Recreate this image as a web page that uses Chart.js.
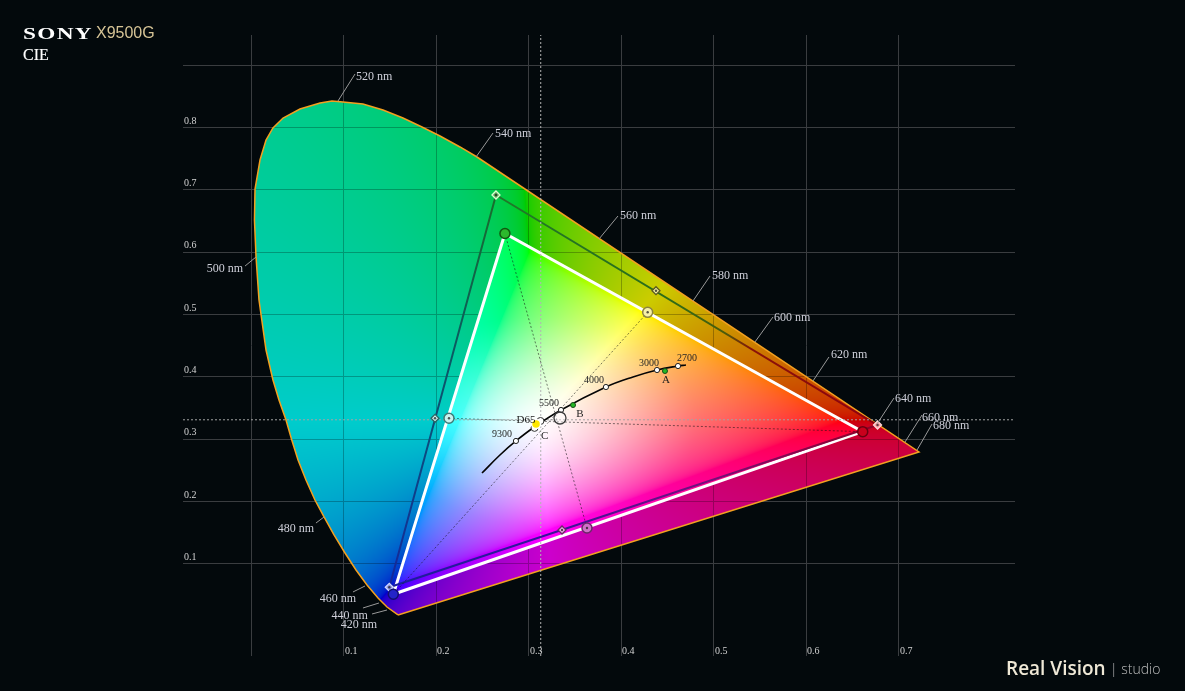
<!DOCTYPE html>
<html><head><meta charset="utf-8">
<script src="https://cdn.jsdelivr.net/npm/chart.js@4.4.1/dist/chart.umd.min.js"></script>
<style>
html,body{margin:0;padding:0;background:#03090c;width:1185px;height:691px;overflow:hidden;}
#wrap{position:relative;width:1185px;height:691px;}
canvas{position:absolute;left:0;top:0;}
.t{position:absolute;line-height:1;white-space:nowrap;}
#sony{left:23px;top:22.5px;font:bold 17.5px 'Liberation Serif',serif;color:#fff;letter-spacing:1px;transform:scaleX(1.33);transform-origin:0 0;}
#model{left:96px;top:23.5px;font:16px 'Liberation Sans',Arial,sans-serif;color:#d6c496;}
#cie{left:23px;top:46px;font:16px 'Liberation Serif',serif;color:#fff;-webkit-text-stroke:0.15px #fff;}
#rv{left:1006px;top:655px;font:600 19px 'Open Sans',sans-serif;color:#efe8d6;}
#st{left:1110px;top:659px;font:300 14px 'Open Sans',sans-serif;color:#bdbdbd;}
</style></head><body>
<div id="wrap">
<canvas id="c" width="1185" height="691"></canvas>
<div class="t" id="sony">SONY</div>
<div class="t" id="model">X9500G</div>
<div class="t" id="cie">CIE</div>
<div class="t" id="rv">Real Vision</div>
<div class="t" id="st">| studio</div>
</div>
<script>
// ---------- axes ----------
const xAxisRange = [-0.07405, 0.82541];
const yAxisRange = [-0.04815, 0.94864];
const xGridValues = [0, 0.1, 0.2, 0.3, 0.4, 0.5, 0.6, 0.7];
const yGridValues = [0.1, 0.2, 0.3, 0.4, 0.5, 0.6, 0.7, 0.8, 0.9];
const xTickValues = [0.1, 0.2, 0.3, 0.4, 0.5, 0.6, 0.7];
const xTickLabels = ['0.1', '0.2', '0.3', '0.4', '0.5', '0.6', '0.7'];
const yTickValues = [0.1, 0.2, 0.3, 0.4, 0.5, 0.6, 0.7, 0.8];
const yTickLabels = ['0.1', '0.2', '0.3', '0.4', '0.5', '0.6', '0.7', '0.8'];

// ---------- spectral locus outline ----------
const locusX = [0.1584,0.1465,0.1368,0.1249,0.1130,0.1011,0.0892,0.0784,0.0686,0.0589,0.0503,0.0432,0.0373,0.0297,0.0232,0.0157,0.0081,0.0049,0.0032,0.0038,0.0092,0.0157,0.0232,0.0341,0.0524,0.0741,0.0870,0.0989,0.1205,0.1422,0.1638,0.1843,0.2038,0.2254,0.2438,0.7216,0.1584];
const locusY = [0.0177,0.0305,0.0449,0.0658,0.0899,0.1172,0.1461,0.1750,0.2022,0.2343,0.2665,0.3002,0.3307,0.3628,0.3949,0.4430,0.5233,0.5923,0.6517,0.7014,0.7480,0.7801,0.7994,0.8154,0.8299,0.8395,0.8427,0.8411,0.8379,0.8283,0.8154,0.8010,0.7865,0.7689,0.7528,0.2793,0.0177];

// wavelength labels
const wlLabels = ['520 nm','540 nm','560 nm','580 nm','600 nm','620 nm','640 nm','660 nm','680 nm','500 nm','480 nm','460 nm','440 nm','420 nm'];
const wlX     = [0.0935,0.2427,0.3757,0.4773,0.5443,0.6070,0.6762,0.7065,0.7195,0.0049,0.0784,0.1227,0.1378,0.1465];
const wlY     = [0.8427,0.7528,0.6212,0.5217,0.4559,0.3933,0.3242,0.2953,0.2825,0.5923,0.1750,0.0642,0.0369,0.0257];
const wlLeadX = [0.1119,0.2611,0.3962,0.4957,0.5638,0.6243,0.6946,0.7249,0.7357,-0.0070,0.0697,0.1097,0.1205,0.1303];
const wlLeadY = [0.8860,0.7913,0.6581,0.5618,0.4960,0.4318,0.3660,0.3387,0.3242,0.5778,0.1653,0.0546,0.0289,0.0193];
const wlTextX = [0.1130,0.2632,0.3984,0.4978,0.5649,0.6265,0.6957,0.7249,0.7368,-0.0092,0.0676,0.1130,0.1259,0.1357];
const wlTextY = [0.8812,0.7897,0.6581,0.5618,0.4944,0.4350,0.3644,0.3339,0.3210,0.5730,0.1557,0.0433,0.0161,0.0016];

// ---------- gamut points (R, G, B) and secondaries (Y, C, M) ----------
const measuredPrimX = [0.6608, 0.2740, 0.1533];
const measuredPrimY = [0.3119, 0.6300, 0.0509];
const targetPrimX   = [0.6768, 0.2643, 0.1490];
const targetPrimY   = [0.3226, 0.6918, 0.0621];
const measuredSecX  = [0.4283, 0.2135, 0.3627];
const measuredSecY  = [0.5035, 0.3334, 0.1573];
const targetSecX    = [0.4373, 0.1984, 0.3357];
const targetSecY    = [0.5382, 0.3334, 0.1541];
const whitePointX = [0.3076];
const whitePointY = [0.3242];
const crossX = 0.3127;
const crossY = 0.3310;

// ---------- illuminants ----------
const illumNames = ['A', 'B', 'C', 'D65', 'E'];
const illumX = [0.4470, 0.3476, 0.3060, 0.3124, 0.3335];
const illumY = [0.4093, 0.3547, 0.3180, 0.3291, 0.3339];

// ---------- Planckian locus ----------
const planckX = [0.2492, 0.2686, 0.2859, 0.3043, 0.3346, 0.3832, 0.4124, 0.4384, 0.4611, 0.4697];
const planckY = [0.2456, 0.2745, 0.2970, 0.3178, 0.3467, 0.3836, 0.3997, 0.4109, 0.4173, 0.4189];
const cctLabels = ['9300', '5500', '4000', '3000', '2700'];
const cctX = [0.2859, 0.3346, 0.3832, 0.4384, 0.4611];
const cctY = [0.2970, 0.3467, 0.3836, 0.4109, 0.4173];

// ---------- helpers ----------
const pts = (xs, ys) => xs.map((x, i) => ({x, y: ys[i]}));
const closed = (xs, ys) => { const p = pts(xs, ys); p.push({...p[0]}); return p; };

function gam(c){ return c <= 0.0031308 ? 12.92*c : 1.055*Math.pow(c, 1/2.4) - 0.055; }

let patterns = null;
function getPatterns(chart){
  const area = chart.chartArea;
  if (!area || !chart.scales.x) return null;
  const W = chart.width, H = chart.height;
  const key = [area.left, area.top, area.right, area.bottom, W, H].join(',');
  if (patterns && patterns.key === key) return patterns;
  const sx = chart.scales.x, sy = chart.scales.y;
  const c1 = document.createElement('canvas'); c1.width = W; c1.height = H;
  const c2 = document.createElement('canvas'); c2.width = W; c2.height = H;
  const g1 = c1.getContext('2d'), g2 = c2.getContext('2d');
  const d1 = g1.createImageData(W, H), d2 = g2.createImageData(W, H);
  const vLines = new Set(xGridValues.map(v => Math.round(sx.getPixelForValue(v) - 0.5)));
  const hLines = new Set(yGridValues.map(v => Math.round(sy.getPixelForValue(v) - 0.5)));
  const x0 = Math.max(0, Math.floor(area.left)), x1 = Math.min(W, Math.ceil(area.right));
  const y0 = Math.max(0, Math.floor(area.top)), y1 = Math.min(H, Math.ceil(area.bottom));
  const xs = new Float64Array(W);
  for (let px = x0; px < x1; px++) xs[px] = sx.getValueForPixel(px + 0.5);
  for (let py = y0; py < y1; py++){
    const y = sy.getValueForPixel(py + 0.5);
    if (y <= 0.002) continue;
    const onH = hLines.has(py);
    for (let px = x0; px < x1; px++){
      const x = xs[px];
      if (x < -0.02 || x + y > 1.05) continue;
      const X = x / y, Z = (1 - x - y) / y;
      let r = 3.2406*X - 1.5372 - 0.4986*Z;
      let g = -0.9689*X + 1.8758 + 0.0415*Z;
      let b = 0.0557*X - 0.2040 + 1.0570*Z;
      const m = Math.min(r, g, b);
      if (m < 0){ r -= m; g -= m; b -= m; }
      const M = Math.max(r, g, b) || 1;
      r = gam(r / M); g = gam(g / M); b = gam(b / M);
      const dx = x - 0.3127, dy = y - 0.329;
      const d = Math.sqrt(dx*dx + dy*dy);
      let w = 1 - d / 0.17; w = w > 0 ? 0.75 * Math.pow(w, 1.4) : 0;
      const i = (py * W + px) * 4;
      d2.data[i]   = (r + (1 - r) * w) * 255;
      d2.data[i+1] = (g + (1 - g) * w) * 255;
      d2.data[i+2] = (b + (1 - b) * w) * 255;
      d2.data[i+3] = 255;
      let f = 0.8;
      if (onH || vLines.has(px)) f *= 0.74;
      d1.data[i]   = r * 255 * f;
      d1.data[i+1] = g * 255 * f;
      d1.data[i+2] = b * 255 * f;
      d1.data[i+3] = 255;
    }
  }
  g1.putImageData(d1, 0, 0); g2.putImageData(d2, 0, 0);
  patterns = {key, dim: chart.ctx.createPattern(c1, 'no-repeat'), bright: chart.ctx.createPattern(c2, 'no-repeat')};
  return patterns;
}

// target (P3) edge gradients: G->R, R->B, B->G
const edgeStops = [
  [[0,'#1e7a2a'],[0.45,'#2d6c18'],[0.6,'#4a5c0a'],[0.67,'#8a1208'],[1,'#8e0010']],
  [[0,'#900024'],[0.35,'#74107c'],[0.7,'#34149c'],[1,'#16209c']],
  [[0,'#16249c'],[0.35,'#0c4a80'],[0.65,'#0c5c5c'],[1,'#1a6e2a']]
];
const edgeIdx = [[1,0],[0,2],[2,1]];
function edgeDataset(k){
  const [a, b] = edgeIdx[k];
  return {
    data: [{x: targetPrimX[a], y: targetPrimY[a]}, {x: targetPrimX[b], y: targetPrimY[b]}],
    showLine: true, pointRadius: 0, borderWidth: 2, order: 40,
    borderColor: (c) => {
      const ch = c.chart; if (!ch.chartArea) return '#333';
      const sx = ch.scales.x, sy = ch.scales.y;
      const gr = ch.ctx.createLinearGradient(sx.getPixelForValue(targetPrimX[a]), sy.getPixelForValue(targetPrimY[a]), sx.getPixelForValue(targetPrimX[b]), sy.getPixelForValue(targetPrimY[b]));
      edgeStops[k].forEach(([o, col]) => gr.addColorStop(o, col));
      return gr;
    }
  };
}

const labelPlugin = {
  id: 'labels',
  afterDatasetsDraw(chart){
    const {ctx, chartArea} = chart;
    const sx = chart.scales.x, sy = chart.scales.y;
    const X = v => sx.getPixelForValue(v), Y = v => sy.getPixelForValue(v);
    ctx.save();
    // tick labels
    ctx.font = '10px "Liberation Serif", serif';
    ctx.fillStyle = '#d2d2d2';
    ctx.textBaseline = 'middle';
    ctx.textAlign = 'left';
    xTickValues.forEach((v, i) => ctx.fillText(xTickLabels[i], Math.round(X(v)) + 1, chartArea.bottom - 4.5));
    yTickValues.forEach((v, i) => ctx.fillText(yTickLabels[i], chartArea.left + 1, Y(v) - 6.5));
    // wavelength leaders + labels
    ctx.strokeStyle = '#9a9a9a'; ctx.lineWidth = 1;
    ctx.font = '12px "Liberation Serif", serif';
    ctx.fillStyle = '#cfd0da';
    wlLabels.forEach((t, i) => {
      ctx.beginPath();
      ctx.moveTo(X(wlX[i]), Y(wlY[i]));
      ctx.lineTo(X(wlLeadX[i]), Y(wlLeadY[i]));
      ctx.stroke();
      ctx.textAlign = parseInt(t) < 510 ? 'right' : 'left';
      ctx.fillText(t, X(wlTextX[i]), Y(wlTextY[i]));
    });
    // CCT labels
    ctx.font = '10px "Liberation Serif", serif';
    ctx.fillStyle = '#262626';
    const cctOff = [[-4,-7,'right'],[-2,-7,'right'],[-2,-7,'right'],[-8,-7,'center'],[-1,-8,'left']];
    cctLabels.forEach((t, i) => {
      ctx.textAlign = cctOff[i][2];
      ctx.fillText(t, X(cctX[i]) + cctOff[i][0], Y(cctY[i]) + cctOff[i][1]);
    });
    // illuminant labels
    ctx.font = '11px "Liberation Serif", serif';
    ctx.fillStyle = '#1e1e1e';
    const ilOff = [[1,9,'center'],[7,9,'center'],[10,8,'center'],[-5,-1,'right'],null];
    illumNames.forEach((t, i) => {
      if (!ilOff[i]) return;
      ctx.textAlign = ilOff[i][2];
      ctx.fillText(t, X(illumX[i]) + ilOff[i][0], Y(illumY[i]) + ilOff[i][1]);
    });
    ctx.restore();
  }
};

const ctx = document.getElementById('c').getContext('2d');
new Chart(ctx, {
  type: 'scatter',
  data: {
    datasets: [
      // measured white point
      {data: pts(whitePointX, whitePointY), pointRadius: 4.5, pointBackgroundColor: '#ffe800', pointBorderColor: '#ffffff', pointBorderWidth: 1.5, order: 1},
      // illuminants
      {data: pts(illumX, illumY),
       pointRadius: [2.5, 2.5, 3.5, 3.5, 6],
       pointBackgroundColor: ['#25b825', '#25b825', '#ffffff', '#ffffff', 'rgba(255,255,255,0.35)'],
       pointBorderColor: ['#1a4a1a', '#1a4a1a', '#333333', '#333333', '#3a3a3a'],
       pointBorderWidth: [1, 1, 1, 1, 1.3], order: 3},
      // CCT markers
      {data: pts(cctX, cctY), pointRadius: 2.6, pointBackgroundColor: '#ffffff', pointBorderColor: '#222222', pointBorderWidth: 1, order: 5},
      // Planckian locus
      {data: pts(planckX, planckY), showLine: true, tension: 0.4, borderColor: '#050505', borderWidth: 1.6, pointRadius: 0, order: 7},
      // marker centre dots
      {data: pts(targetPrimX.concat(targetSecX, measuredSecX), targetPrimY.concat(targetSecY, measuredSecY)),
       pointRadius: 1.2, pointBackgroundColor: 'rgba(30,30,30,0.75)', pointBorderWidth: 0, order: 8},
      // measured secondaries
      {data: pts(measuredSecX, measuredSecY), pointRadius: 5,
       pointBackgroundColor: ['#f6f0a8', '#c8f2ee', '#d070c8'],
       pointBorderColor: ['#8c8440', '#3e7a76', '#6a2a68'], pointBorderWidth: 1.5, order: 9},
      // measured primaries
      {data: pts(measuredPrimX, measuredPrimY), pointRadius: 5,
       pointBackgroundColor: ['#c8001c', '#2cb82c', '#2424c8'],
       pointBorderColor: ['#6a0010', '#0f5a0f', '#101070'], pointBorderWidth: 1.5, order: 10},
      // target secondaries
      {data: pts(targetSecX, targetSecY), pointStyle: 'rectRot', pointRadius: 4,
       pointBackgroundColor: ['#f2eea0', '#d0f2f0', '#f0b0e8'],
       pointBorderColor: ['#5a5820', '#2a6464', '#6a2a64'], pointBorderWidth: 1.3, order: 11},
      // target primaries
      {data: pts(targetPrimX, targetPrimY), pointStyle: 'rectRot', pointRadius: 4,
       pointBackgroundColor: ['#ff9aa0', '#5aa85a', '#8a90e0'],
       pointBorderColor: ['#ffd8d8', '#d8ffd0', '#d0d8ff'], pointBorderWidth: 1.3, order: 12},
      // dotted lines primary -> opposite secondary
      {data: [{x: measuredPrimX[1], y: measuredPrimY[1]}, {x: measuredSecX[2], y: measuredSecY[2]}], showLine: true, pointRadius: 0, borderColor: 'rgba(20,20,20,0.55)', borderWidth: 1, borderDash: [2, 2], order: 30},
      {data: [{x: measuredSecX[0], y: measuredSecY[0]}, {x: measuredPrimX[2], y: measuredPrimY[2]}], showLine: true, pointRadius: 0, borderColor: 'rgba(20,20,20,0.55)', borderWidth: 1, borderDash: [2, 2], order: 30},
      {data: [{x: measuredSecX[1], y: measuredSecY[1]}, {x: measuredPrimX[0], y: measuredPrimY[0]}], showLine: true, pointRadius: 0, borderColor: 'rgba(20,20,20,0.55)', borderWidth: 1, borderDash: [2, 2], order: 30},
      // crosshair
      {data: [{x: xAxisRange[0], y: crossY}, {x: xAxisRange[1], y: crossY}], showLine: true, pointRadius: 0, borderColor: '#a4a4a4', borderWidth: 1, borderDash: [2, 2], order: 35},
      {data: [{x: crossX, y: yAxisRange[0]}, {x: crossX, y: yAxisRange[1]}], showLine: true, pointRadius: 0, borderColor: '#b4b4b4', borderWidth: 1, borderDash: [2, 2], order: 35},
      // target gamut edges
      edgeDataset(0), edgeDataset(1), edgeDataset(2),
      // measured gamut triangle
      {data: closed(measuredPrimX, measuredPrimY), showLine: true, fill: 'shape', pointRadius: 0,
       borderColor: '#ffffff', borderWidth: 3, borderJoinStyle: 'miter', order: 45,
       backgroundColor: (c) => { const p = getPatterns(c.chart); return p ? p.bright : 'rgba(0,0,0,0)'; }},
      // spectral locus
      {data: pts(locusX, locusY), showLine: true, fill: 'shape', pointRadius: 0,
       borderColor: '#f3a020', borderWidth: 1.5, order: 50,
       backgroundColor: (c) => { const p = getPatterns(c.chart); return p ? p.dim : 'rgba(0,0,0,0)'; }}
    ]
  },
  options: {
    responsive: false,
    maintainAspectRatio: false,
    devicePixelRatio: 1,
    animation: false,
    events: [],
    layout: {padding: {left: 183, right: 170, top: 35, bottom: 35}},
    plugins: {legend: {display: false}, tooltip: {enabled: false}, title: {display: false}},
    scales: {
      x: {
        type: 'linear', min: xAxisRange[0], max: xAxisRange[1],
        afterBuildTicks: s => { s.ticks = xGridValues.map(v => ({value: v})); },
        afterFit: s => { s.height = 0; },
        ticks: {display: false},
        grid: {color: '#3a3d40', lineWidth: 1, drawTicks: false},
        border: {display: false}
      },
      y: {
        type: 'linear', min: yAxisRange[0], max: yAxisRange[1],
        afterBuildTicks: s => { s.ticks = yGridValues.map(v => ({value: v})); },
        afterFit: s => { s.width = 0; },
        ticks: {display: false},
        grid: {color: '#3a3d40', lineWidth: 1, drawTicks: false},
        border: {display: false}
      }
    }
  },
  plugins: [labelPlugin]
});
</script>
</body></html>
